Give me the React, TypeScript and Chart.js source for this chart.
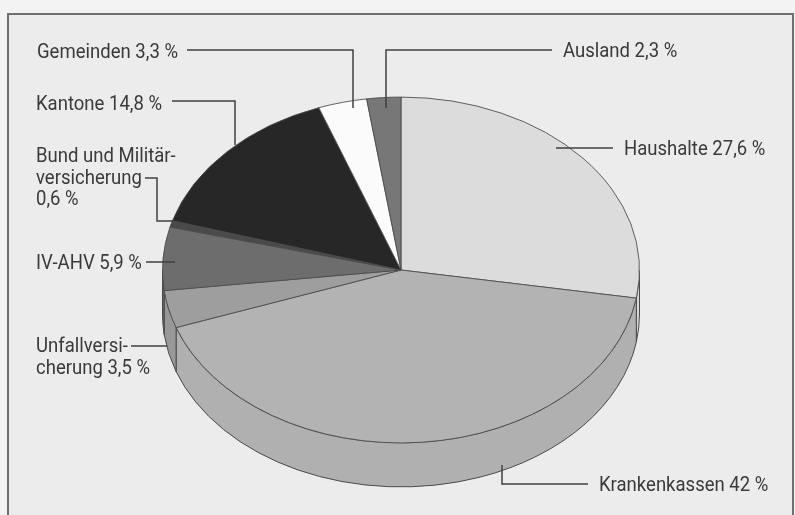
import React, { useEffect, useRef } from 'react';
import { Chart, registerables } from 'chart.js';

Chart.register(...registerables);

// ---- data ----
const categories = [
  'Haushalte',
  'Krankenkassen',
  'Unfallversicherung',
  'IV-AHV',
  'Bund und Militärversicherung',
  'Kantone',
  'Gemeinden',
  'Ausland',
];
const shares = [27.6, 42, 3.5, 5.9, 0.6, 14.8, 3.3, 2.3];
const labelLines = [
  ['Haushalte 27,6 %'],
  ['Krankenkassen 42 %'],
  ['Unfallversi-', 'cherung 3,5 %'],
  ['IV-AHV 5,9 %'],
  ['Bund und Militär-', 'versicherung', '0,6 %'],
  ['Kantone 14,8 %'],
  ['Gemeinden 3,3 %'],
  ['Ausland 2,3 %'],
];

// ---- styles / layout ----
const sliceColors = ['#dcdcdc', '#b3b3b3', '#9e9e9e', '#6d6d6d', '#4a4a4a', '#272727', '#fbfbfb', '#777777'];
const sideColors = ['#d6d6d6', '#b0b0b0', '#989898', '#6a6a6a', '#484848', '#252525', '#f0f0f0', '#737373'];
const W = 795;
const H = 515;
const TILT = 0.725;
const DEPTH = 44;
const FONT = '19.5px Roboto, "Noto Sans", sans-serif';
const TEXT_SCALE_X = 0.95;
const TEXT_COLOR = '#3a3a3a';
const LINE_H = 21.5;

type Layout = { x: number; y: number; leader: number[][] };
const LABEL_LAYOUT: Layout[] = [
  { x: 624, y: 155, leader: [[613, 148], [556, 148]] },
  { x: 599, y: 491, leader: [[588, 484], [502, 484], [502, 465]] },
  { x: 36, y: 352, leader: [[131, 346], [167, 346]] },
  { x: 36, y: 269, leader: [[146, 262], [175, 262]] },
  { x: 36, y: 162, leader: [[145, 178], [157, 178], [157, 221], [173, 221]] },
  { x: 36, y: 110, leader: [[172, 101], [235, 101], [235, 145]] },
  { x: 37, y: 58, leader: [[187, 50], [353, 50], [353, 108]] },
  { x: 563, y: 57, leader: [[552, 50], [386, 50], [386, 108]] },
];

const framePlugin = {
  id: 'frame',
  beforeDraw(chart: any) {
    const ctx = chart.ctx;
    ctx.save();
    ctx.fillStyle = '#f3f3f3';
    ctx.fillRect(0, 0, W, H);
    ctx.fillStyle = '#ececec';
    ctx.fillRect(8, 14, 785, H - 14);
    ctx.strokeStyle = '#6f6f6f';
    ctx.lineWidth = 2;
    ctx.beginPath();
    ctx.moveTo(8, H);
    ctx.lineTo(8, 14);
    ctx.lineTo(793, 14);
    ctx.lineTo(793, H);
    ctx.stroke();
    ctx.restore();
  },
};

const pie3dPlugin = {
  id: 'pie3d',
  beforeDatasetsDraw(chart: any) {
    const meta = chart.getDatasetMeta(0);
    const arcs = meta.data as any[];
    const ctx = chart.ctx;
    ctx.save();
    if (!arcs.length) return;
    const { x: cx, y: cy, outerRadius: r } = arcs[0].getProps(['x', 'y', 'outerRadius'], true);
    const ry = r * TILT;
    // extruded side
    arcs.forEach((arc, i) => {
      const { startAngle, endAngle } = arc.getProps(['startAngle', 'endAngle'], true);
      const a0 = Math.max(startAngle, 0);
      const a1 = Math.min(endAngle, Math.PI);
      if (a1 <= a0) return;
      ctx.beginPath();
      ctx.ellipse(cx, cy, r, ry, 0, a0, a1);
      ctx.lineTo(cx + r * Math.cos(a1), cy + ry * Math.sin(a1) + DEPTH);
      ctx.ellipse(cx, cy + DEPTH, r, ry, 0, a1, a0, true);
      ctx.closePath();
      ctx.fillStyle = sideColors[i];
      ctx.fill();
      ctx.strokeStyle = '#4a4a4a';
      ctx.lineWidth = 1;
      ctx.stroke();
    });
    // tilt the top face
    ctx.translate(cx, cy);
    ctx.scale(1, TILT);
    ctx.translate(-cx, -cy);
  },
  afterDatasetsDraw(chart: any) {
    chart.ctx.restore();
  },
};

const labelPlugin = {
  id: 'labels3d',
  afterDraw(chart: any) {
    const ctx = chart.ctx;
    ctx.save();
    ctx.strokeStyle = '#404040';
    ctx.lineWidth = 1.5;
    labelLines.forEach((lines, i) => {
      const lay = LABEL_LAYOUT[i];
      ctx.save();
      ctx.font = FONT;
      ctx.fillStyle = TEXT_COLOR;
      ctx.textBaseline = 'alphabetic';
      ctx.textAlign = 'left';
      ctx.translate(lay.x, 0);
      ctx.scale(TEXT_SCALE_X, 1);
      lines.forEach((t, j) => ctx.fillText(t, 0, lay.y + j * LINE_H));
      ctx.restore();
      ctx.beginPath();
      lay.leader.forEach((p, k) => (k === 0 ? ctx.moveTo(p[0], p[1]) : ctx.lineTo(p[0], p[1])));
      ctx.stroke();
    });
    ctx.restore();
  },
};

export default function App() {
  const ref = useRef<HTMLCanvasElement>(null);
  useEffect(() => {
    document.body.style.margin = '0';
    const canvas = ref.current;
    if (!canvas) return;
    const chart = new Chart(canvas, {
      type: 'pie',
      data: {
        labels: categories,
        datasets: [
          {
            data: shares,
            backgroundColor: sliceColors,
            borderColor: '#4a4a4a',
            borderWidth: 1,
          },
        ],
      },
      options: {
        responsive: false,
        animation: false,
        devicePixelRatio: 1,
        events: [],
        layout: { padding: { left: 162, right: 155, top: 31, bottom: 6 } },
        plugins: {
          legend: { display: false },
          tooltip: { enabled: false },
        },
      },
      plugins: [framePlugin, pie3dPlugin, labelPlugin],
    } as any);
    return () => chart.destroy();
  }, []);
  return (
    <div style={{ position: 'fixed', left: 0, top: 0, width: W, height: H }}>
      <canvas ref={ref} width={W} height={H} style={{ width: W, height: H, display: 'block' }} />
    </div>
  );
}
